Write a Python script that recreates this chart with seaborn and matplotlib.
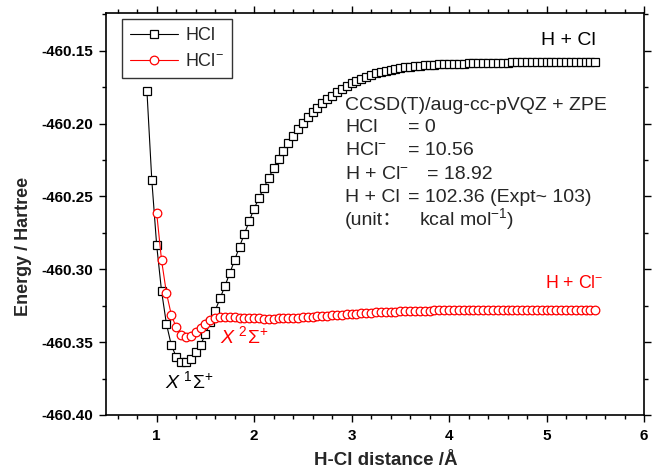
import matplotlib
matplotlib.use("Agg")
import matplotlib.pyplot as plt
from matplotlib.ticker import MultipleLocator, FormatStrFormatter
import numpy as np
import pandas as pd
import seaborn as sns

# ---------------- data ----------------
r_hcl = [0.90, 0.95, 1.00, 1.05, 1.10, 1.15, 1.20, 1.25, 1.30, 1.35, 1.40, 1.45,
         1.50, 1.55, 1.60, 1.65, 1.70, 1.75, 1.80, 1.85, 1.90, 1.95, 2.00, 2.05,
         2.10, 2.15, 2.20, 2.25, 2.30, 2.35, 2.40, 2.45, 2.50, 2.55, 2.60, 2.65,
         2.70, 2.75, 2.80, 2.85, 2.90, 2.95, 3.00, 3.05, 3.10, 3.15, 3.20, 3.25,
         3.30, 3.35, 3.40, 3.45, 3.50, 3.55, 3.60, 3.65, 3.70, 3.75, 3.80, 3.85,
         3.90, 3.95, 4.00, 4.05, 4.10, 4.15, 4.20, 4.25, 4.30, 4.35, 4.40, 4.45,
         4.50, 4.55, 4.60, 4.65, 4.70, 4.75, 4.80, 4.85, 4.90, 4.95, 5.00, 5.05,
         5.10, 5.15, 5.20, 5.25, 5.30, 5.35, 5.40, 5.45, 5.50]
e_hcl = [-460.1777, -460.2389, -460.2836, -460.3150, -460.3375, -460.3520,
         -460.3600, -460.3634, -460.3636, -460.3614, -460.3570, -460.3520,
         -460.3444, -460.3364, -460.3284, -460.3200, -460.3115, -460.3027,
         -460.2936, -460.2845, -460.2756, -460.2669, -460.2583, -460.2511,
         -460.2440, -460.2372, -460.2306, -460.2245, -460.2186, -460.2133,
         -460.2085, -460.2039, -460.1996, -460.1958, -460.1922, -460.1891,
         -460.1862, -460.1834, -460.1808, -460.1785, -460.1764, -460.1743,
         -460.1724, -460.1707, -460.1692, -460.1679, -460.1667, -460.1656,
         -460.1647, -460.1638, -460.1631, -460.1624, -460.1618, -460.1614,
         -460.1610, -460.1606, -460.1603, -460.1600, -460.1598, -460.1596,
         -460.1594, -460.1592, -460.1591, -460.1590, -460.1589, -460.1588,
         -460.1587, -460.1586, -460.1585, -460.1584, -460.1583, -460.1583,
         -460.1582, -460.1581, -460.1581, -460.1580, -460.1580, -460.1579,
         -460.1579, -460.1579, -460.1578, -460.1578, -460.1578, -460.1577,
         -460.1577, -460.1577, -460.1577, -460.1576, -460.1576, -460.1576,
         -460.1576, -460.1576, -460.1576]

r_anion = [1.00, 1.05, 1.10, 1.15, 1.20, 1.25, 1.30, 1.35, 1.40, 1.45,
           1.50, 1.55, 1.60, 1.65, 1.70, 1.75, 1.80, 1.85, 1.90, 1.95, 2.00, 2.05,
           2.10, 2.15, 2.20, 2.25, 2.30, 2.35, 2.40, 2.45, 2.50, 2.55, 2.60, 2.65,
           2.70, 2.75, 2.80, 2.85, 2.90, 2.95, 3.00, 3.05, 3.10, 3.15, 3.20, 3.25,
           3.30, 3.35, 3.40, 3.45, 3.50, 3.55, 3.60, 3.65, 3.70, 3.75, 3.80, 3.85,
           3.90, 3.95, 4.00, 4.05, 4.10, 4.15, 4.20, 4.25, 4.30, 4.35, 4.40, 4.45,
           4.50, 4.55, 4.60, 4.65, 4.70, 4.75, 4.80, 4.85, 4.90, 4.95, 5.00, 5.05,
           5.10, 5.15, 5.20, 5.25, 5.30, 5.35, 5.40, 5.45, 5.50]
e_anion = [-460.2615, -460.2938, -460.3162, -460.3312, -460.3399, -460.3449,
           -460.3463, -460.3456, -460.3433, -460.3403, -460.3376, -460.3350,
           -460.3335, -460.3328, -460.3326, -460.3327, -460.3329, -460.3331,
           -460.3333, -460.3335, -460.3336, -460.3337, -460.3338, -460.3338,
           -460.3338, -460.3337, -460.3336, -460.3335, -460.3333, -460.3331,
           -460.3329, -460.3327, -460.3325, -460.3323, -460.3320, -460.3318,
           -460.3316, -460.3313, -460.3311, -460.3309, -460.3306, -460.3304,
           -460.3302, -460.3300, -460.3298, -460.3296, -460.3295, -460.3293,
           -460.3292, -460.3290, -460.3289, -460.3288, -460.3287, -460.3286,
           -460.3285, -460.3284, -460.3283, -460.3282, -460.3282, -460.3281,
           -460.3281, -460.3280, -460.3280, -460.3279, -460.3279, -460.3279,
           -460.3278, -460.3278, -460.3278, -460.3278, -460.3278, -460.3278,
           -460.3278, -460.3278, -460.3278, -460.3278, -460.3278, -460.3278,
           -460.3278, -460.3278, -460.3278, -460.3278, -460.3277, -460.3277,
           -460.3277, -460.3277, -460.3277, -460.3277, -460.3277, -460.3277,
           -460.3277]

series_names = ["HCl", "HCl$^{-}$"]
x_ticks = [1, 2, 3, 4, 5, 6]
y_ticks = [-460.40, -460.35, -460.30, -460.25, -460.20, -460.15]

info_left = ["CCSD(T)/aug-cc-pVQZ + ZPE", "HCl", "HCl$^{-}$", "H + Cl$^{-}$",
             "H + Cl", "(unit\uff1a"]
info_right = [None, "= 0", "= 10.56", "= 18.92", "= 102.36 (Expt~ 103)",
              "kcal mol$^{-1}$)"]

# ---------------- style ----------------
sns.set_style("ticks")
plt.rcParams["font.family"] = ["Liberation Sans", "Noto Sans CJK SC", "DejaVu Sans"]
plt.rcParams["mathtext.fontset"] = "custom"
plt.rcParams["mathtext.rm"] = "Liberation Sans"
plt.rcParams["mathtext.it"] = "Liberation Sans:italic"
plt.rcParams["mathtext.bf"] = "Liberation Sans:bold"
plt.rcParams["axes.unicode_minus"] = False

W, H = 652, 468
fig = plt.figure(figsize=(W / 100, H / 100), dpi=100)
ax = fig.add_axes([106 / W, 1 - 415 / H, 538 / W, (415 - 12.7) / H])


def px(x, y):
    return (x / W, 1 - y / H)


df_hcl = pd.DataFrame({"r": r_hcl, "E": e_hcl})
df_an = pd.DataFrame({"r": r_anion, "E": e_anion})

sns.lineplot(data=df_hcl, x="r", y="E", ax=ax, color="black", linewidth=0.8,
             marker="s", markersize=5.5, markerfacecolor="white",
             markeredgecolor="black", markeredgewidth=0.9,
             label=series_names[0], sort=False, estimator=None, zorder=3)
sns.lineplot(data=df_an, x="r", y="E", ax=ax, color="red", linewidth=0.8,
             marker="o", markersize=6.2, markerfacecolor="white",
             markeredgecolor="red", markeredgewidth=0.9,
             label=series_names[1], sort=False, estimator=None, zorder=4)

ax.set_xlim(0.48, 6.0)
ax.set_ylim(-460.40, -460.1239)
ax.set_xticks(x_ticks)
ax.set_yticks(y_ticks)
ax.xaxis.set_minor_locator(MultipleLocator(0.2))
ax.yaxis.set_minor_locator(MultipleLocator(0.025))
ax.xaxis.set_major_formatter(FormatStrFormatter("%d"))
ax.yaxis.set_major_formatter(FormatStrFormatter("%.2f"))

for s in ax.spines.values():
    s.set_linewidth(1.2)
    s.set_color("black")

ax.tick_params(which="both", direction="out", top=True, right=True,
               labeltop=False, labelright=False, colors="black", width=1.0)
ax.tick_params(which="major", length=5, pad=4)
ax.tick_params(which="minor", length=3)
ax.tick_params(axis="x", which="major", pad=5)
for lab in ax.get_xticklabels() + ax.get_yticklabels():
    lab.set_fontweight("bold")
    lab.set_fontsize(11)

ax.set_xlabel("H-Cl distance /\u00c5", fontsize=13.5, fontweight="bold")
ax.set_ylabel("Energy / Hartree", fontsize=13, fontweight="bold")
ax.xaxis.set_label_coords(0.52, -0.092)
ax.yaxis.set_label_coords(-0.138, 0.42)

leg = ax.legend(loc="upper left", bbox_to_anchor=(0.03, 0.985), borderaxespad=0,
                fontsize=13, frameon=True, fancybox=False, edgecolor="black",
                handlelength=2.65, handletextpad=0.4, labelspacing=0.5,
                borderpad=0.45)
leg.get_frame().set_linewidth(1.0)
for h in leg.get_lines():
    h.set_linewidth(0.8)

# annotations
fs = 14
ys = [110.5, 132.5, 155.5, 179, 202, 225]
for i, t in enumerate(info_left):
    fig.text(*px(345, ys[i]), t, fontsize=fs, ha="left", va="baseline",
             family=["Liberation Sans", "Noto Sans CJK SC", "DejaVu Sans"])
    if info_right[i] is not None:
        xr = 427 if i == 3 else (419 if i == 5 else 408)
        fig.text(*px(xr, ys[i]), info_right[i], fontsize=fs, ha="left", va="baseline")

fig.text(*px(541, 45), "H + Cl", fontsize=14, ha="left", va="baseline", color="black")
fig.text(*px(545, 288), "H + Cl$^{-}$", fontsize=12.8, ha="left", va="baseline", color="red")
fig.text(*px(165, 388), "$X$ $^{1}\\Sigma^{+}$", fontsize=14, ha="left", va="baseline", color="black")
fig.text(*px(220, 343), "$X$ $^{2}\\Sigma^{+}$", fontsize=14, ha="left", va="baseline", color="red")

fig.savefig("out.png", dpi=100)
